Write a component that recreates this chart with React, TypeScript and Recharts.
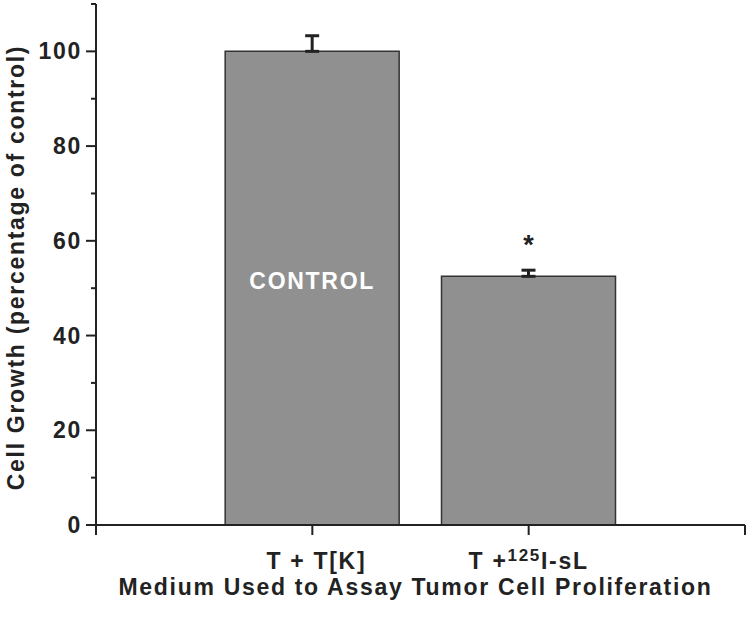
import { BarChart, Bar, XAxis, YAxis, ErrorBar, LabelList } from "recharts";

const positions = [1, 2];
const growth = [100, 52.5];
const errorUp = [3.3, 1.3];
const innerLabels = ["CONTROL", ""];
const marks = ["", "*"];
const xTickLabels: Record<number, string> = { 1: "T + T[K]", 2: "T +125I-sL" };
const yTicks = [0, 10, 20, 30, 40, 50, 60, 70, 80, 90, 100, 110];

const data = positions.map((x, i) => ({
  x,
  growth: growth[i],
  err: [0, errorUp[i]],
  inner: innerLabels[i],
  mark: marks[i],
}));

const FONT = "'Liberation Sans', Arial, sans-serif";
const INK = "#222";
const FS = 23;
const LS = 1.7;

const YTick = (props: any) => {
  const { x, y, payload } = props;
  const major = payload.value % 20 === 0 && payload.value <= 100;
  return (
    <g>
      <line x1={x} x2={x - (major ? 10 : 5)} y1={y} y2={y} stroke={INK} strokeWidth={2} />
      {major && (
        <text x={x - 14} y={y + 8} textAnchor="end" fontFamily={FONT} fontWeight="bold" fontSize={FS} letterSpacing={LS} fill={INK}>
          {payload.value}
        </text>
      )}
    </g>
  );
};

const XTick = (props: any) => {
  const { x, y, payload } = props;
  const v = payload.value;
  return (
    <g>
      <line x1={x} x2={x} y1={y} y2={y + 10} stroke={INK} strokeWidth={2} />
      {v === 1 && (
        <text x={x + 4} y={y + 44} textAnchor="middle" fontFamily={FONT} fontWeight="bold" fontSize={FS} letterSpacing={LS} fill={INK}>
          {xTickLabels[1]}
        </text>
      )}
      {v === 2 && (
        <text x={x} y={y + 44} textAnchor="middle" fontFamily={FONT} fontWeight="bold" fontSize={FS} letterSpacing={LS} fill={INK}>
          T +<tspan dy={-8} fontSize={17}>125</tspan>
          <tspan dy={8}>I-sL</tspan>
        </text>
      )}
    </g>
  );
};

const InnerLabel = (props: any) => {
  const { x, y, width, height, value } = props;
  if (!value) return null;
  return (
    <text x={x + width / 2} y={y + height * 0.485 + 8} textAnchor="middle" fontFamily={FONT} fontWeight="bold" fontSize={FS} letterSpacing={LS} fill="#fff">
      {value}
    </text>
  );
};

const MarkLabel = (props: any) => {
  const { x, y, width, value } = props;
  if (!value) return null;
  return (
    <text x={x + width / 2} y={y - 22} textAnchor="middle" fontFamily={FONT} fontWeight="bold" fontSize={27} fill={INK}>
      {value}
    </text>
  );
};

export default function App() {
  return (
    <div style={{ position: "absolute", left: 0, top: 0, background: "#fff" }}>
      <BarChart width={750} height={620} data={data} margin={{ top: 4, right: 5, left: 0, bottom: 0 }}>
        <XAxis
          dataKey="x"
          type="number"
          domain={[0, 3]}
          ticks={[0, 1, 2, 3]}
          height={95}
          tickSize={0}
          tickMargin={0}
          tick={<XTick />}
          stroke={INK}
          strokeWidth={2}
          label={{
            content: (p: any) => {
              const vb = p.viewBox;
              return (
                <text x={vb.x + vb.width / 2 - 5} y={vb.y + 70} textAnchor="middle" fontFamily={FONT} fontWeight="bold" fontSize={FS} letterSpacing={LS} fill={INK}>
                  Medium Used to Assay Tumor Cell Proliferation
                </text>
              );
            },
          }}
        />
        <YAxis
          type="number"
          domain={[0, 110]}
          ticks={yTicks}
          interval={0}
          width={96}
          tickSize={0}
          tickMargin={0}
          tick={<YTick />}
          stroke={INK}
          strokeWidth={2}
          label={{
            content: (p: any) => {
              const vb = p.viewBox;
              const cx = vb.x + 16;
              const cy = vb.y + vb.height / 2 + 3;
              return (
                <text x={cx} y={cy} transform={`rotate(-90 ${cx} ${cy})`} textAnchor="middle" dominantBaseline="central" fontFamily={FONT} fontWeight="bold" fontSize={FS} letterSpacing={LS} fill={INK}>
                  Cell Growth (percentage of control)
                </text>
              );
            },
          }}
        />
        <Bar dataKey="growth" barSize={174} fill="#909090" stroke="#333" strokeWidth={1.5} isAnimationActive={false}>
          <ErrorBar dataKey="err" width={7} stroke={INK} strokeWidth={3} direction="y" />
          <LabelList dataKey="inner" content={<InnerLabel />} />
          <LabelList dataKey="mark" content={<MarkLabel />} />
        </Bar>
      </BarChart>
    </div>
  );
}
